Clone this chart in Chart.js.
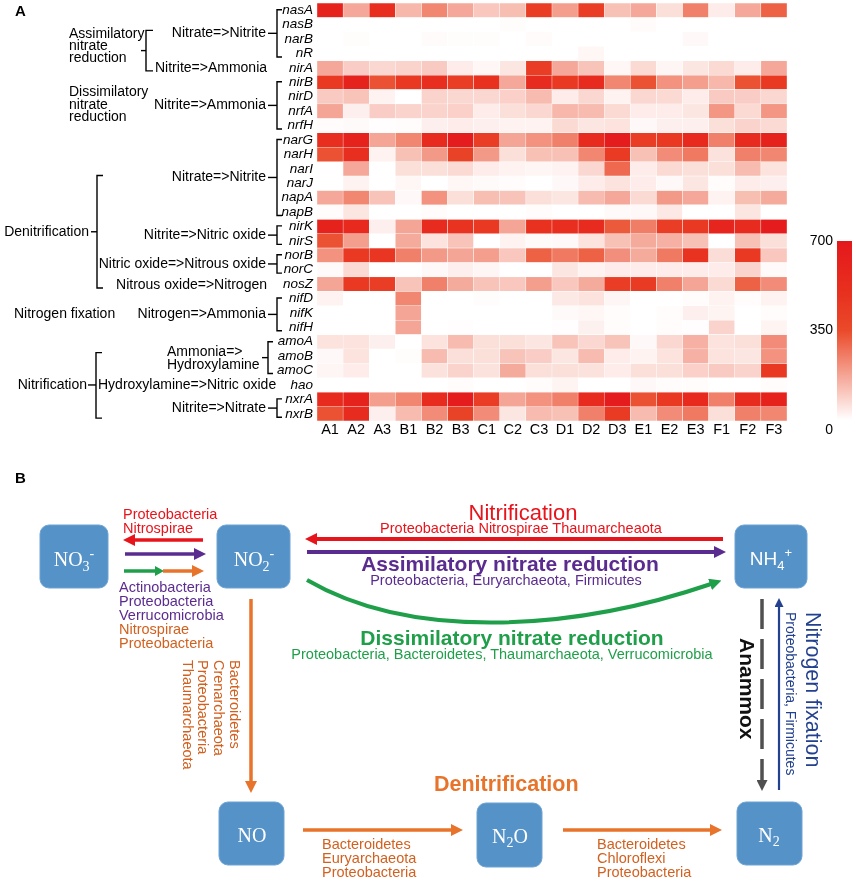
<!DOCTYPE html>
<html>
<head>
<meta charset="utf-8">
<script src="https://cdn.jsdelivr.net/npm/chart.js@4"></script>
<style>
  html, body { margin: 0; padding: 0; background: #fff; }
  #page { position: relative; width: 856px; height: 882px; overflow: hidden; }
  #heatWrap { position: absolute; left: 0; top: 0; width: 856px; height: 445px; }
  #panelB { position: absolute; left: 0; top: 0; }
  #panelB text { font-family: "Liberation Sans", Arial, sans-serif; }
  #panelB .chem { font-family: "Liberation Serif", "Times New Roman", serif; }
</style>
</head>
<body>
<div id="page">
  <div id="heatWrap"><canvas id="heatmap"></canvas></div>
  <svg id="panelB" width="856" height="882" viewBox="0 0 856 882">
    <defs>
      <marker id="hRed" markerUnits="userSpaceOnUse" markerWidth="12" markerHeight="12" viewBox="0 0 12 12" refX="1" refY="6" orient="auto"><path d="M0,0 L12,6 L0,12 z" fill="#e8141c"/></marker>
      <marker id="hPurple" markerUnits="userSpaceOnUse" markerWidth="12" markerHeight="12" viewBox="0 0 12 12" refX="1" refY="6" orient="auto"><path d="M0,0 L12,6 L0,12 z" fill="#5b2c8f"/></marker>
      <marker id="hGreen" markerUnits="userSpaceOnUse" markerWidth="12" markerHeight="12" viewBox="0 0 12 12" refX="1" refY="6" orient="auto"><path d="M0,0 L12,6 L0,12 z" fill="#1f9f4a"/></marker>
      <marker id="hGreenS" markerUnits="userSpaceOnUse" markerWidth="9" markerHeight="10" viewBox="0 0 9 10" refX="1" refY="5" orient="auto"><path d="M0,0 L9,5 L0,10 z" fill="#1f9f4a"/></marker>
      <marker id="hOrange" markerUnits="userSpaceOnUse" markerWidth="12" markerHeight="12" viewBox="0 0 12 12" refX="1" refY="6" orient="auto"><path d="M0,0 L12,6 L0,12 z" fill="#e8732a"/></marker>
      <marker id="hGrey" markerUnits="userSpaceOnUse" markerWidth="11" markerHeight="11" viewBox="0 0 11 11" refX="1" refY="5.5" orient="auto"><path d="M0,0 L11,5.5 L0,11 z" fill="#505050"/></marker>
      <marker id="hBlue" markerUnits="userSpaceOnUse" markerWidth="9" markerHeight="9" viewBox="0 0 9 9" refX="1" refY="4.5" orient="auto"><path d="M0,0 L9,4.5 L0,9 z" fill="#24418f"/></marker>
    </defs>

    <text x="15" y="483" font-size="15" font-weight="bold">B</text>

    <!-- compound boxes -->
    <g fill="#5592c8" stroke="#6ea3d3" stroke-width="1">
      <rect x="40" y="525" width="68" height="63" rx="9"/>
      <rect x="217" y="525" width="73" height="63" rx="9"/>
      <rect x="735" y="525" width="72" height="63" rx="9"/>
      <rect x="219" y="802" width="65" height="63" rx="9"/>
      <rect x="477" y="803" width="65" height="64" rx="9"/>
      <rect x="737" y="802" width="65" height="63" rx="9"/>
    </g>
    <g fill="#fff" font-size="20">
      <text class="chem" x="74" y="566" text-anchor="middle">NO<tspan font-size="14" dy="5">3</tspan><tspan font-size="14" dy="-13">-</tspan></text>
      <text class="chem" x="254" y="566" text-anchor="middle">NO<tspan font-size="14" dy="5">2</tspan><tspan font-size="14" dy="-13">-</tspan></text>
      <text x="771" y="565" text-anchor="middle" font-size="19">NH<tspan font-size="13" dy="5">4</tspan><tspan font-size="13" dy="-13">+</tspan></text>
      <text class="chem" x="252" y="842" text-anchor="middle">NO</text>
      <text class="chem" x="510" y="843" text-anchor="middle">N<tspan font-size="14" dy="4">2</tspan><tspan dy="-4">O</tspan></text>
      <text class="chem" x="769" y="842" text-anchor="middle">N<tspan font-size="14" dy="4">2</tspan></text>
    </g>

    <!-- NO3 <-> NO2 -->
    <line x1="203" y1="540" x2="134" y2="540" stroke="#e8141c" stroke-width="3.5" marker-end="url(#hRed)"/>
    <line x1="125" y1="554" x2="195" y2="554" stroke="#5b2c8f" stroke-width="3.5" marker-end="url(#hPurple)"/>
    <line x1="124" y1="571" x2="156" y2="571" stroke="#1f9f4a" stroke-width="3.5" marker-end="url(#hGreenS)"/>
    <line x1="163" y1="571" x2="193" y2="571" stroke="#e8732a" stroke-width="3.5" marker-end="url(#hOrange)"/>
    <g font-size="14.5">
      <text x="123" y="519" fill="#e8141c">Proteobacteria</text>
      <text x="123" y="533" fill="#e8141c">Nitrospirae</text>
      <text x="119" y="592" fill="#5b2c8f">Actinobacteria</text>
      <text x="119" y="606" fill="#5b2c8f">Proteobacteria</text>
      <text x="119" y="620" fill="#5b2c8f">Verrucomicrobia</text>
      <text x="119" y="634" fill="#d2601f">Nitrospirae</text>
      <text x="119" y="648" fill="#d2601f">Proteobacteria</text>
    </g>

    <!-- NO2 <-> NH4 -->
    <line x1="723" y1="539" x2="316" y2="539" stroke="#e8141c" stroke-width="4" marker-end="url(#hRed)"/>
    <line x1="307" y1="552" x2="715" y2="552" stroke="#5b2c8f" stroke-width="4" marker-end="url(#hPurple)"/>
    <path d="M307,580 C410,640 570,632 711,584" fill="none" stroke="#1f9f4a" stroke-width="4" marker-end="url(#hGreen)"/>
    <text x="523" y="520" text-anchor="middle" font-size="22" fill="#e8141c">Nitrification</text>
    <text x="521" y="533" text-anchor="middle" font-size="14.5" fill="#e8141c">Proteobacteria Nitrospirae Thaumarcheaota</text>
    <text x="510" y="571" text-anchor="middle" font-size="21" font-weight="bold" fill="#5b2c8f">Assimilatory nitrate reduction</text>
    <text x="506" y="585" text-anchor="middle" font-size="14.5" fill="#5b2c8f">Proteobacteria, Euryarchaeota, Firmicutes</text>
    <text x="512" y="645" text-anchor="middle" font-size="21" font-weight="bold" fill="#1f9f4a">Dissimilatory nitrate reduction</text>
    <text x="502" y="659" text-anchor="middle" font-size="14.5" fill="#1f9f4a">Proteobacteria, Bacteroidetes, Thaumarchaeota, Verrucomicrobia</text>

    <!-- NO2 -> NO -->
    <line x1="251" y1="599" x2="251" y2="782" stroke="#e8732a" stroke-width="3.5" marker-end="url(#hOrange)"/>
    <g font-size="14.5" fill="#d2601f">
      <text transform="translate(230,660) rotate(90)">Bacteroidetes</text>
      <text transform="translate(214,660) rotate(90)">Crenarchaeota</text>
      <text transform="translate(198,660) rotate(90)">Proteobacteria</text>
      <text transform="translate(183,660) rotate(90)">Thaumarchaeota</text>
    </g>

    <!-- denitrification chain -->
    <line x1="303" y1="830" x2="452" y2="830" stroke="#e8732a" stroke-width="3.5" marker-end="url(#hOrange)"/>
    <line x1="563" y1="830" x2="711" y2="830" stroke="#e8732a" stroke-width="3.5" marker-end="url(#hOrange)"/>
    <text x="434" y="791" font-size="21.5" font-weight="bold" fill="#e8732a">Denitrification</text>
    <g font-size="14.5" fill="#d2601f">
      <text x="322" y="849">Bacteroidetes</text>
      <text x="322" y="863">Euryarchaeota</text>
      <text x="322" y="877">Proteobacteria</text>
      <text x="597" y="849">Bacteroidetes</text>
      <text x="597" y="863">Chloroflexi</text>
      <text x="597" y="877">Proteobacteria</text>
    </g>

    <!-- anammox and nitrogen fixation -->
    <line x1="762" y1="599" x2="762" y2="781" stroke="#505050" stroke-width="3.5" stroke-dasharray="30 10" marker-end="url(#hGrey)"/>
    <text transform="translate(740,638) rotate(90)" font-size="21" font-weight="bold" fill="#111">Anammox</text>
    <line x1="779" y1="790" x2="779" y2="606" stroke="#24418f" stroke-width="2.2" marker-end="url(#hBlue)"/>
    <text transform="translate(806,612) rotate(90)" font-size="21.5" fill="#24418f">Nitrogen fixation</text>
    <text transform="translate(786,612) rotate(90)" font-size="14" fill="#24418f">Proteobacteria, Firmicutes</text>
  </svg>
</div>

<script>
const SAMPLES = ["A1", "A2", "A3", "B1", "B2", "B3", "C1", "C2", "C3",
  "D1", "D2", "D3", "E1", "E2", "E3", "F1", "F2", "F3"];

const GENES = ["nasA", "nasB", "narB", "nR", "nirA", "nirB", "nirD", "nrfA", "nrfH",
  "narG", "narH", "narI", "narJ", "napA", "napB", "nirK", "nirS", "norB", "norC",
  "nosZ", "nifD", "nifK", "nifH", "amoA", "amoB", "amoC", "hao", "nxrA", "nxrB"];

// gene abundance per sample (A1 ... F3), colour scale 0-700
const nasA = [615, 168, 510, 138, 234, 168, 108, 126, 420, 186, 420, 120, 168, 60, 246, 36, 168, 305];
const nasB = [0, 0, 0, 0, 0, 0, 0, 5, 0, 0, 0, 0, 8, 0, 0, 0, 0, 0];
const narB = [0, 5, 0, 0, 8, 5, 5, 0, 8, 0, 0, 0, 0, 0, 12, 0, 0, 0];
const nR = [0, 0, 0, 0, 0, 0, 0, 0, 0, 0, 15, 0, 0, 0, 0, 0, 0, 0];
const nirA = [168, 96, 78, 84, 102, 36, 15, 48, 420, 168, 114, 15, 72, 18, 48, 72, 36, 168];
const nirB = [450, 615, 335, 450, 510, 420, 495, 168, 545, 450, 545, 234, 335, 210, 186, 138, 335, 450];
const nirD = [102, 114, 24, 0, 84, 78, 78, 90, 132, 36, 78, 24, 78, 72, 36, 102, 96, 78];
const nrfA = [174, 30, 96, 84, 84, 90, 36, 60, 78, 138, 132, 72, 36, 36, 48, 204, 72, 204];
const nrfH = [6, 9, 3, 6, 30, 36, 30, 24, 24, 72, 48, 54, 12, 30, 30, 60, 84, 72];
const narG = [510, 615, 174, 234, 545, 665, 420, 174, 210, 246, 545, 665, 420, 450, 560, 246, 545, 615];
const narH = [335, 510, 24, 120, 198, 390, 198, 60, 120, 120, 234, 435, 120, 222, 260, 57, 246, 234];
const narI = [0, 168, 0, 60, 60, 72, 36, 24, 18, 24, 78, 290, 36, 72, 60, 60, 132, 54];
const narJ = [0, 24, 0, 15, 0, 15, 9, 6, 0, 12, 36, 54, 36, 12, 48, 6, 36, 30];
const napA = [168, 234, 114, 12, 210, 60, 126, 114, 60, 48, 132, 168, 72, 198, 168, 24, 126, 162];
const napB = [6, 48, 0, 0, 6, 0, 0, 0, 6, 0, 0, 9, 12, 42, 0, 0, 48, 0];
const nirK = [615, 560, 30, 174, 545, 480, 450, 174, 495, 510, 530, 320, 252, 420, 450, 595, 545, 665];
const nirS = [335, 186, 0, 162, 54, 114, 0, 24, 9, 12, 54, 120, 162, 150, 120, 0, 120, 60];
const norB = [210, 450, 465, 246, 198, 174, 186, 108, 305, 260, 305, 216, 162, 260, 480, 66, 450, 108];
const norC = [9, 72, 0, 0, 12, 30, 18, 0, 0, 48, 24, 36, 36, 36, 36, 36, 84, 9];
const nosZ = [174, 450, 420, 114, 246, 162, 114, 108, 186, 108, 162, 420, 435, 246, 174, 72, 305, 222];
const nifD = [24, 0, 0, 234, 0, 0, 5, 0, 0, 42, 54, 18, 0, 0, 6, 24, 6, 24];
const nifK = [0, 0, 0, 174, 0, 0, 0, 0, 0, 9, 15, 6, 0, 6, 30, 21, 0, 6];
const nifH = [0, 0, 0, 174, 0, 3, 0, 0, 0, 3, 27, 6, 0, 6, 3, 84, 0, 21];
const amoA = [54, 54, 30, 0, 54, 132, 60, 60, 48, 114, 78, 114, 12, 78, 150, 54, 60, 222];
const amoB = [12, 54, 0, 5, 132, 60, 60, 114, 96, 48, 132, 36, 24, 54, 150, 54, 48, 210];
const amoC = [18, 36, 0, 0, 57, 84, 57, 162, 60, 60, 57, 36, 60, 60, 90, 102, 84, 450];
const hao = [0, 0, 0, 0, 0, 6, 0, 0, 6, 21, 0, 0, 12, 6, 6, 0, 0, 6];
const nxrA = [545, 615, 186, 234, 545, 665, 420, 174, 210, 246, 530, 665, 335, 450, 560, 246, 545, 615];
const nxrB = [335, 545, 30, 132, 222, 390, 222, 48, 132, 120, 246, 435, 132, 222, 260, 60, 246, 234];

const ROWS = [nasA, nasB, narB, nR, nirA, nirB, nirD, nrfA, nrfH, narG, narH, narI, narJ,
  napA, napB, nirK, nirS, norB, norC, nosZ, nifD, nifK, nifH, amoA, amoB, amoC, hao, nxrA, nxrB];

const SCALE_TICKS = [700, 350, 0];
const SCALE_STOPS = [
  [0, [255, 255, 255]],
  [350, [234, 74, 42]],
  [500, [232, 48, 31]],
  [700, [228, 24, 28]],
];

const FONT = '"Liberation Sans", Arial, sans-serif';

function colorFor(value) {
  const v = Math.max(0, Math.min(700, value));
  for (let k = 1; k < SCALE_STOPS.length; k++) {
    const [v0, c0] = SCALE_STOPS[k - 1];
    const [v1, c1] = SCALE_STOPS[k];
    if (v <= v1) {
      const t = (v - v0) / (v1 - v0);
      const c = c0.map((ch, j) => Math.round(ch + (c1[j] - ch) * t));
      return `rgb(${c[0]},${c[1]},${c[2]})`;
    }
  }
  return "rgb(228,24,28)";
}

// row ranges bracketed next to the gene names
const GENE_GROUPS = [
  { from: 0, to: 3, label: "Nitrate=>Nitrite" },
  { from: 5, to: 8, label: "Nitrite=>Ammonia" },
  { from: 9, to: 14, label: "Nitrate=>Nitrite" },
  { from: 15, to: 16, label: "Nitrite=>Nitric oxide" },
  { from: 17, to: 18, label: "Nitric oxide=>Nitrous oxide" },
  { from: 20, to: 22, label: "Nitrogen=>Ammonia" },
  { from: 27, to: 28, label: "Nitrite=>Nitrate" },
];

const pathwayLabels = {
  id: "pathwayLabels",
  afterDraw(chart) {
    const { ctx } = chart;
    const yScale = chart.scales.y;
    const yc = (i) => yScale.getPixelForValue(i + 0.5);

    const path = (pts) => {
      ctx.beginPath();
      pts.forEach(([px, py], k) => (k ? ctx.lineTo(px, py) : ctx.moveTo(px, py)));
      ctx.stroke();
    };
    const text = (s, x, y, align = "left") => {
      ctx.textAlign = align;
      ctx.fillText(s, x, y);
    };

    ctx.save();
    ctx.fillStyle = "#000";
    ctx.strokeStyle = "#000";
    ctx.lineWidth = 1.4;
    ctx.textBaseline = "middle";

    ctx.font = `bold 15px ${FONT}`;
    text("A", 15, 12);

    ctx.font = `14px ${FONT}`;
    const mids = [];
    GENE_GROUPS.forEach((g) => {
      const top = yc(g.from) - 0.5;
      const bot = yc(g.to) + 3.5;
      const mid = (top + bot) / 2;
      mids.push(mid);
      path([[282, top], [277, top], [277, bot], [282, bot]]);
      path([[268, mid], [277, mid]]);
      text(g.label, 266, mid, "right");
    });

    // assimilatory
    const aTop = mids[0] - 3;
    const aBot = yc(4) + 3;
    const aMid = (aTop + aBot) / 2;
    path([[153, aTop], [146, aTop], [146, aBot], [153, aBot]]);
    path([[141, aMid], [146, aMid]]);
    text("Nitrite=>Ammonia", 155, yc(4));
    text("Assimilatory", 69, aMid - 16);
    text("nitrate", 69, aMid - 4);
    text("reduction", 69, aMid + 8);

    // dissimilatory
    text("Dissimilatory", 69, mids[1] - 13);
    text("nitrate", 69, mids[1]);
    text("reduction", 69, mids[1] + 12);

    // denitrification
    const dTop = mids[2] - 2;
    const dBot = yc(19) + 4;
    const dMid = (dTop + dBot) / 2;
    path([[103, dTop], [97, dTop], [97, dBot], [103, dBot]]);
    path([[91, dMid], [97, dMid]]);
    text("Denitrification", 89, dMid, "right");
    text("Nitrous oxide=>Nitrogen", 267, yc(19) + 1.5, "right");

    // nitrogen fixation
    text("Nitrogen fixation", 14, mids[5]);

    // ammonia oxidation bracket
    const mTop = yc(23);
    const mBot = yc(25) + 3;
    const mMid = (mTop + mBot) / 2;
    path([[273, mTop], [268, mTop], [268, mBot], [273, mBot]]);
    path([[262, mMid], [268, mMid]]);
    text("Ammonia=>", 167, mMid - 5);
    text("Hydroxylamine", 167, mMid + 8);

    // nitrification
    const nTop = mMid - 5;
    const nBot = mids[6] + 10;
    const nMid = yc(26);
    path([[102, nTop], [96, nTop], [96, nBot], [102, nBot]]);
    path([[88, nMid], [96, nMid]]);
    text("Nitrification", 87, nMid, "right");
    text("Hydroxylamine=>Nitric oxide", 98, nMid);

    ctx.restore();
  },
};

const colorBar = {
  id: "colorBar",
  afterDraw(chart) {
    const { ctx } = chart;
    const x0 = 837, w = 15, top = 241, bottom = 420;
    const grad = ctx.createLinearGradient(0, bottom, 0, top);
    for (let v = 0; v <= 700; v += 25) grad.addColorStop(v / 700, colorFor(v));
    ctx.save();
    ctx.fillStyle = grad;
    ctx.fillRect(x0, top, w, bottom - top);
    ctx.fillStyle = "#000";
    ctx.font = `14px ${FONT}`;
    ctx.textAlign = "right";
    ctx.textBaseline = "middle";
    SCALE_TICKS.forEach((v) => {
      const y = v === 0 ? 430 : bottom - (v / 700) * (bottom - top);
      ctx.fillText(String(v), 833, y);
    });
    ctx.restore();
  },
};

new Chart(document.getElementById("heatmap"), {
  type: "bar",
  data: {
    labels: SAMPLES,
    datasets: GENES.map((gene, i) => ({
      label: gene,
      data: SAMPLES.map(() => 1),
      backgroundColor: ROWS[i].map(colorFor),
      borderColor: "rgba(255,255,255,0.85)",
      borderWidth: 0.5,
      borderSkipped: false,
      categoryPercentage: 1,
      barPercentage: 1,
    })),
  },
  options: {
    responsive: true,
    maintainAspectRatio: false,
    animation: false,
    layout: { padding: { top: 3, right: 69, bottom: 0, left: 0 } },
    scales: {
      x: {
        stacked: true,
        grid: { display: false, drawTicks: false },
        border: { display: false },
        ticks: { color: "#000", font: { family: FONT, size: 14.5 }, padding: 0, maxRotation: 0 },
        afterFit: (axis) => {
          axis.height = 24;
          axis.paddingLeft = 0;
          axis.paddingRight = 0;
        },
      },
      y: {
        stacked: true,
        reverse: true,
        min: 0,
        max: GENES.length,
        grid: { display: false, drawTicks: false },
        border: { display: false },
        afterBuildTicks: (axis) => { axis.ticks = GENES.map((g, i) => ({ value: i + 0.5 })); },
        afterFit: (axis) => {
          axis.width = 317;
          axis.paddingTop = 0;
          axis.paddingBottom = 0;
        },
        ticks: {
          autoSkip: false,
          padding: 4,
          color: "#000",
          font: { family: FONT, size: 13.5, style: "italic" },
          callback: (value, index) => GENES[index],
        },
      },
    },
    plugins: { legend: { display: false }, tooltip: { enabled: false } },
  },
  plugins: [pathwayLabels, colorBar],
});
</script>
</body>
</html>
